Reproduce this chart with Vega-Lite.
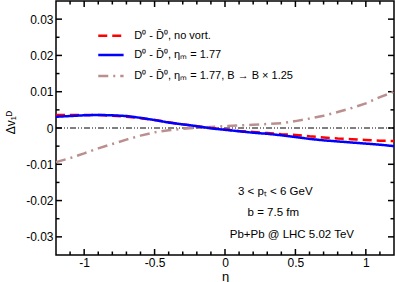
{
  "$schema": "https://vega.github.io/schema/vega-lite/v6.json",
  "autosize": {"type": "none"},
  "padding": {"left": 56, "top": 1, "right": 1, "bottom": 27},
  "width": 338,
  "height": 254,
  "config": {
    "font": "Liberation Sans",
    "view": {"stroke": "black", "strokeWidth": 1.5},
    "axis": {"domain": false, "ticks": false, "grid": false, "labelColor": "black", "labelFontSize": 12, "labelOverlap": false, "labelFlush": false, "titleColor": "black", "titleFontWeight": "normal"}
  },
  "datasets": {
    "curves": [
      {"series": "B125", "eta": -1.2, "v": -0.0094},
      {"series": "B125", "eta": -1.1, "v": -0.0083},
      {"series": "B125", "eta": -1.0, "v": -0.0070},
      {"series": "B125", "eta": -0.9, "v": -0.0056},
      {"series": "B125", "eta": -0.8, "v": -0.0044},
      {"series": "B125", "eta": -0.7, "v": -0.0032},
      {"series": "B125", "eta": -0.6, "v": -0.0021},
      {"series": "B125", "eta": -0.5, "v": -0.0012},
      {"series": "B125", "eta": -0.4, "v": -0.0006},
      {"series": "B125", "eta": -0.3, "v": -0.0002},
      {"series": "B125", "eta": -0.2, "v": 0.0001},
      {"series": "B125", "eta": -0.1, "v": 0.0003},
      {"series": "B125", "eta": 0.0, "v": 0.0005},
      {"series": "B125", "eta": 0.1, "v": 0.0007},
      {"series": "B125", "eta": 0.2, "v": 0.0009},
      {"series": "B125", "eta": 0.3, "v": 0.0011},
      {"series": "B125", "eta": 0.4, "v": 0.0013},
      {"series": "B125", "eta": 0.5, "v": 0.0019},
      {"series": "B125", "eta": 0.6, "v": 0.0026},
      {"series": "B125", "eta": 0.7, "v": 0.0034},
      {"series": "B125", "eta": 0.8, "v": 0.0044},
      {"series": "B125", "eta": 0.9, "v": 0.0055},
      {"series": "B125", "eta": 1.0, "v": 0.0068},
      {"series": "B125", "eta": 1.1, "v": 0.0085},
      {"series": "B125", "eta": 1.2, "v": 0.0100},
      {"series": "novort", "eta": -1.2, "v": 0.0036},
      {"series": "novort", "eta": -1.1, "v": 0.0036},
      {"series": "novort", "eta": -1.0, "v": 0.0036},
      {"series": "novort", "eta": -0.9, "v": 0.0036},
      {"series": "novort", "eta": -0.8, "v": 0.0034},
      {"series": "novort", "eta": -0.7, "v": 0.0031},
      {"series": "novort", "eta": -0.6, "v": 0.0027},
      {"series": "novort", "eta": -0.5, "v": 0.0022},
      {"series": "novort", "eta": -0.4, "v": 0.0016},
      {"series": "novort", "eta": -0.3, "v": 0.0010},
      {"series": "novort", "eta": -0.2, "v": 0.0005},
      {"series": "novort", "eta": -0.1, "v": 0.0000},
      {"series": "novort", "eta": 0.0, "v": -0.0004},
      {"series": "novort", "eta": 0.1, "v": -0.0008},
      {"series": "novort", "eta": 0.2, "v": -0.0011},
      {"series": "novort", "eta": 0.3, "v": -0.0014},
      {"series": "novort", "eta": 0.4, "v": -0.0017},
      {"series": "novort", "eta": 0.5, "v": -0.0019},
      {"series": "novort", "eta": 0.6, "v": -0.0023},
      {"series": "novort", "eta": 0.7, "v": -0.0026},
      {"series": "novort", "eta": 0.8, "v": -0.0029},
      {"series": "novort", "eta": 0.9, "v": -0.0031},
      {"series": "novort", "eta": 1.0, "v": -0.0033},
      {"series": "novort", "eta": 1.1, "v": -0.0035},
      {"series": "novort", "eta": 1.2, "v": -0.0036},
      {"series": "eta177", "eta": -1.2, "v": 0.0031},
      {"series": "eta177", "eta": -1.1, "v": 0.0033},
      {"series": "eta177", "eta": -1.0, "v": 0.0035},
      {"series": "eta177", "eta": -0.9, "v": 0.0036},
      {"series": "eta177", "eta": -0.8, "v": 0.0035},
      {"series": "eta177", "eta": -0.7, "v": 0.0033},
      {"series": "eta177", "eta": -0.6, "v": 0.0028},
      {"series": "eta177", "eta": -0.5, "v": 0.0022},
      {"series": "eta177", "eta": -0.4, "v": 0.0015},
      {"series": "eta177", "eta": -0.3, "v": 0.0010},
      {"series": "eta177", "eta": -0.2, "v": 0.0005},
      {"series": "eta177", "eta": -0.1, "v": -0.0001},
      {"series": "eta177", "eta": 0.0, "v": -0.0005},
      {"series": "eta177", "eta": 0.1, "v": -0.0009},
      {"series": "eta177", "eta": 0.2, "v": -0.0013},
      {"series": "eta177", "eta": 0.3, "v": -0.0016},
      {"series": "eta177", "eta": 0.4, "v": -0.0020},
      {"series": "eta177", "eta": 0.5, "v": -0.0025},
      {"series": "eta177", "eta": 0.6, "v": -0.0030},
      {"series": "eta177", "eta": 0.7, "v": -0.0034},
      {"series": "eta177", "eta": 0.8, "v": -0.0037},
      {"series": "eta177", "eta": 0.9, "v": -0.0040},
      {"series": "eta177", "eta": 1.0, "v": -0.0043},
      {"series": "eta177", "eta": 1.1, "v": -0.0046},
      {"series": "eta177", "eta": 1.2, "v": -0.0050}
    ],
    "legend": [
      {"series": "novort", "x1": -0.9, "x2": -0.72, "y": 0.0254, "tx": -0.644, "label": "D⁰ - D̄⁰,  no vort."},
      {"series": "eta177", "x1": -0.9, "x2": -0.72, "y": 0.0201, "tx": -0.644, "label": "D⁰ - D̄⁰,  ηₘ = 1.77"},
      {"series": "B125", "x1": -0.9, "x2": -0.72, "y": 0.0143, "tx": -0.644, "label": "D⁰ - D̄⁰,  ηₘ = 1.77,  B → B × 1.25"}
    ],
    "notes": [
      {"x": 0.357, "y": -0.0175, "label": "3 < pₜ < 6 GeV"},
      {"x": 0.343, "y": -0.0234, "label": "b = 7.5 fm"},
      {"x": 0.475, "y": -0.0295, "label": "Pb+Pb @ LHC 5.02 TeV"}
    ],
    "zero": [
      {"eta": -1.2, "v": 0},
      {"eta": 1.2, "v": 0}
    ],
    "xmajor": [{"eta": -1}, {"eta": -0.5}, {"eta": 0}, {"eta": 0.5}, {"eta": 1}],
    "xminor": [{"eta": -1.1}, {"eta": -0.9}, {"eta": -0.8}, {"eta": -0.7}, {"eta": -0.6}, {"eta": -0.4}, {"eta": -0.3}, {"eta": -0.2}, {"eta": -0.1}, {"eta": 0.1}, {"eta": 0.2}, {"eta": 0.3}, {"eta": 0.4}, {"eta": 0.6}, {"eta": 0.7}, {"eta": 0.8}, {"eta": 0.9}, {"eta": 1.1}],
    "ymajor": [{"v": -0.03}, {"v": -0.02}, {"v": -0.01}, {"v": 0}, {"v": 0.01}, {"v": 0.02}, {"v": 0.03}],
    "yminor": [{"v": -0.025}, {"v": -0.015}, {"v": -0.005}, {"v": 0.005}, {"v": 0.015}, {"v": 0.025}]
  },
  "layer": [
    {
      "data": {"name": "zero"},
      "mark": {"type": "line", "color": "black", "strokeWidth": 1, "strokeDash": [6, 2, 1, 2, 1, 2]},
      "encoding": {
        "x": {"field": "eta", "type": "quantitative", "scale": {"domain": [-1.2, 1.2], "nice": false, "zero": false},
          "axis": {"orient": "bottom",
            "values": [-1, -0.5, 0, 0.5, 1],
            "labelExpr": "''+datum.value",
            "labelPadding": 2,
            "title": "η", "titleFontSize": 13, "titleY": 21, "titleBaseline": "middle"}},
        "y": {"field": "v", "type": "quantitative", "scale": {"domain": [-0.035, 0.035], "nice": false, "zero": false},
          "axis": {"orient": "left",
            "values": [-0.03, -0.02, -0.01, 0, 0.01, 0.02, 0.03],
            "labelExpr": "''+datum.value",
            "labelPadding": 3,
            "title": "Δv₁ᴰ", "titleFontSize": 12, "titleX": -46, "titleY": 121, "titleBaseline": "middle"}}
      }
    },
    {
      "data": {"name": "xmajor"},
      "mark": {"type": "tick", "orient": "vertical", "color": "black", "size": 6, "thickness": 1.5, "yOffset": -3, "opacity": 1},
      "encoding": {"x": {"field": "eta", "type": "quantitative"}, "y": {"datum": -0.035, "type": "quantitative"}}
    },
    {
      "data": {"name": "xmajor"},
      "mark": {"type": "tick", "orient": "vertical", "color": "black", "size": 6, "thickness": 1.5, "yOffset": 3, "opacity": 1},
      "encoding": {"x": {"field": "eta", "type": "quantitative"}, "y": {"datum": 0.035, "type": "quantitative"}}
    },
    {
      "data": {"name": "xminor"},
      "mark": {"type": "tick", "orient": "vertical", "color": "black", "size": 3.5, "thickness": 1.5, "yOffset": -1.75, "opacity": 1},
      "encoding": {"x": {"field": "eta", "type": "quantitative"}, "y": {"datum": -0.035, "type": "quantitative"}}
    },
    {
      "data": {"name": "xminor"},
      "mark": {"type": "tick", "orient": "vertical", "color": "black", "size": 3.5, "thickness": 1.5, "yOffset": 1.75, "opacity": 1},
      "encoding": {"x": {"field": "eta", "type": "quantitative"}, "y": {"datum": 0.035, "type": "quantitative"}}
    },
    {
      "data": {"name": "ymajor"},
      "mark": {"type": "tick", "orient": "horizontal", "color": "black", "size": 6, "thickness": 1.5, "xOffset": 3, "opacity": 1},
      "encoding": {"y": {"field": "v", "type": "quantitative"}, "x": {"datum": -1.2, "type": "quantitative"}}
    },
    {
      "data": {"name": "ymajor"},
      "mark": {"type": "tick", "orient": "horizontal", "color": "black", "size": 6, "thickness": 1.5, "xOffset": -3, "opacity": 1},
      "encoding": {"y": {"field": "v", "type": "quantitative"}, "x": {"datum": 1.2, "type": "quantitative"}}
    },
    {
      "data": {"name": "yminor"},
      "mark": {"type": "tick", "orient": "horizontal", "color": "black", "size": 3.5, "thickness": 1.5, "xOffset": 1.75, "opacity": 1},
      "encoding": {"y": {"field": "v", "type": "quantitative"}, "x": {"datum": -1.2, "type": "quantitative"}}
    },
    {
      "data": {"name": "yminor"},
      "mark": {"type": "tick", "orient": "horizontal", "color": "black", "size": 3.5, "thickness": 1.5, "xOffset": -1.75, "opacity": 1},
      "encoding": {"y": {"field": "v", "type": "quantitative"}, "x": {"datum": 1.2, "type": "quantitative"}}
    },
    {
      "data": {"name": "curves"},
      "mark": {"type": "line", "strokeWidth": 2.5},
      "encoding": {
        "x": {"field": "eta", "type": "quantitative"},
        "y": {"field": "v", "type": "quantitative"},
        "color": {"field": "series", "type": "nominal", "sort": null, "legend": null,
          "scale": {"domain": ["novort", "eta177", "B125"], "range": ["#ff0000", "#0000ff", "#bc8f8f"]}},
        "strokeDash": {"field": "series", "type": "nominal", "sort": null, "legend": null,
          "scale": {"domain": ["novort", "eta177", "B125"], "range": [[9, 5], [1, 0], [10, 5, 2, 5]]}}
      }
    },
    {
      "data": {"name": "legend"},
      "mark": {"type": "rule", "strokeWidth": 2.5},
      "encoding": {
        "x": {"field": "x1", "type": "quantitative"},
        "x2": {"field": "x2"},
        "y": {"field": "y", "type": "quantitative"},
        "color": {"field": "series", "type": "nominal", "legend": null},
        "strokeDash": {"field": "series", "type": "nominal", "legend": null}
      }
    },
    {
      "data": {"name": "legend"},
      "mark": {"type": "text", "align": "left", "baseline": "middle", "fontSize": 11, "color": "black"},
      "encoding": {
        "x": {"field": "tx", "type": "quantitative"},
        "y": {"field": "y", "type": "quantitative"},
        "text": {"field": "label"}
      }
    },
    {
      "data": {"name": "notes"},
      "mark": {"type": "text", "align": "center", "baseline": "middle", "fontSize": 11.5, "color": "black"},
      "encoding": {
        "x": {"field": "x", "type": "quantitative"},
        "y": {"field": "y", "type": "quantitative"},
        "text": {"field": "label"}
      }
    }
  ]
}
